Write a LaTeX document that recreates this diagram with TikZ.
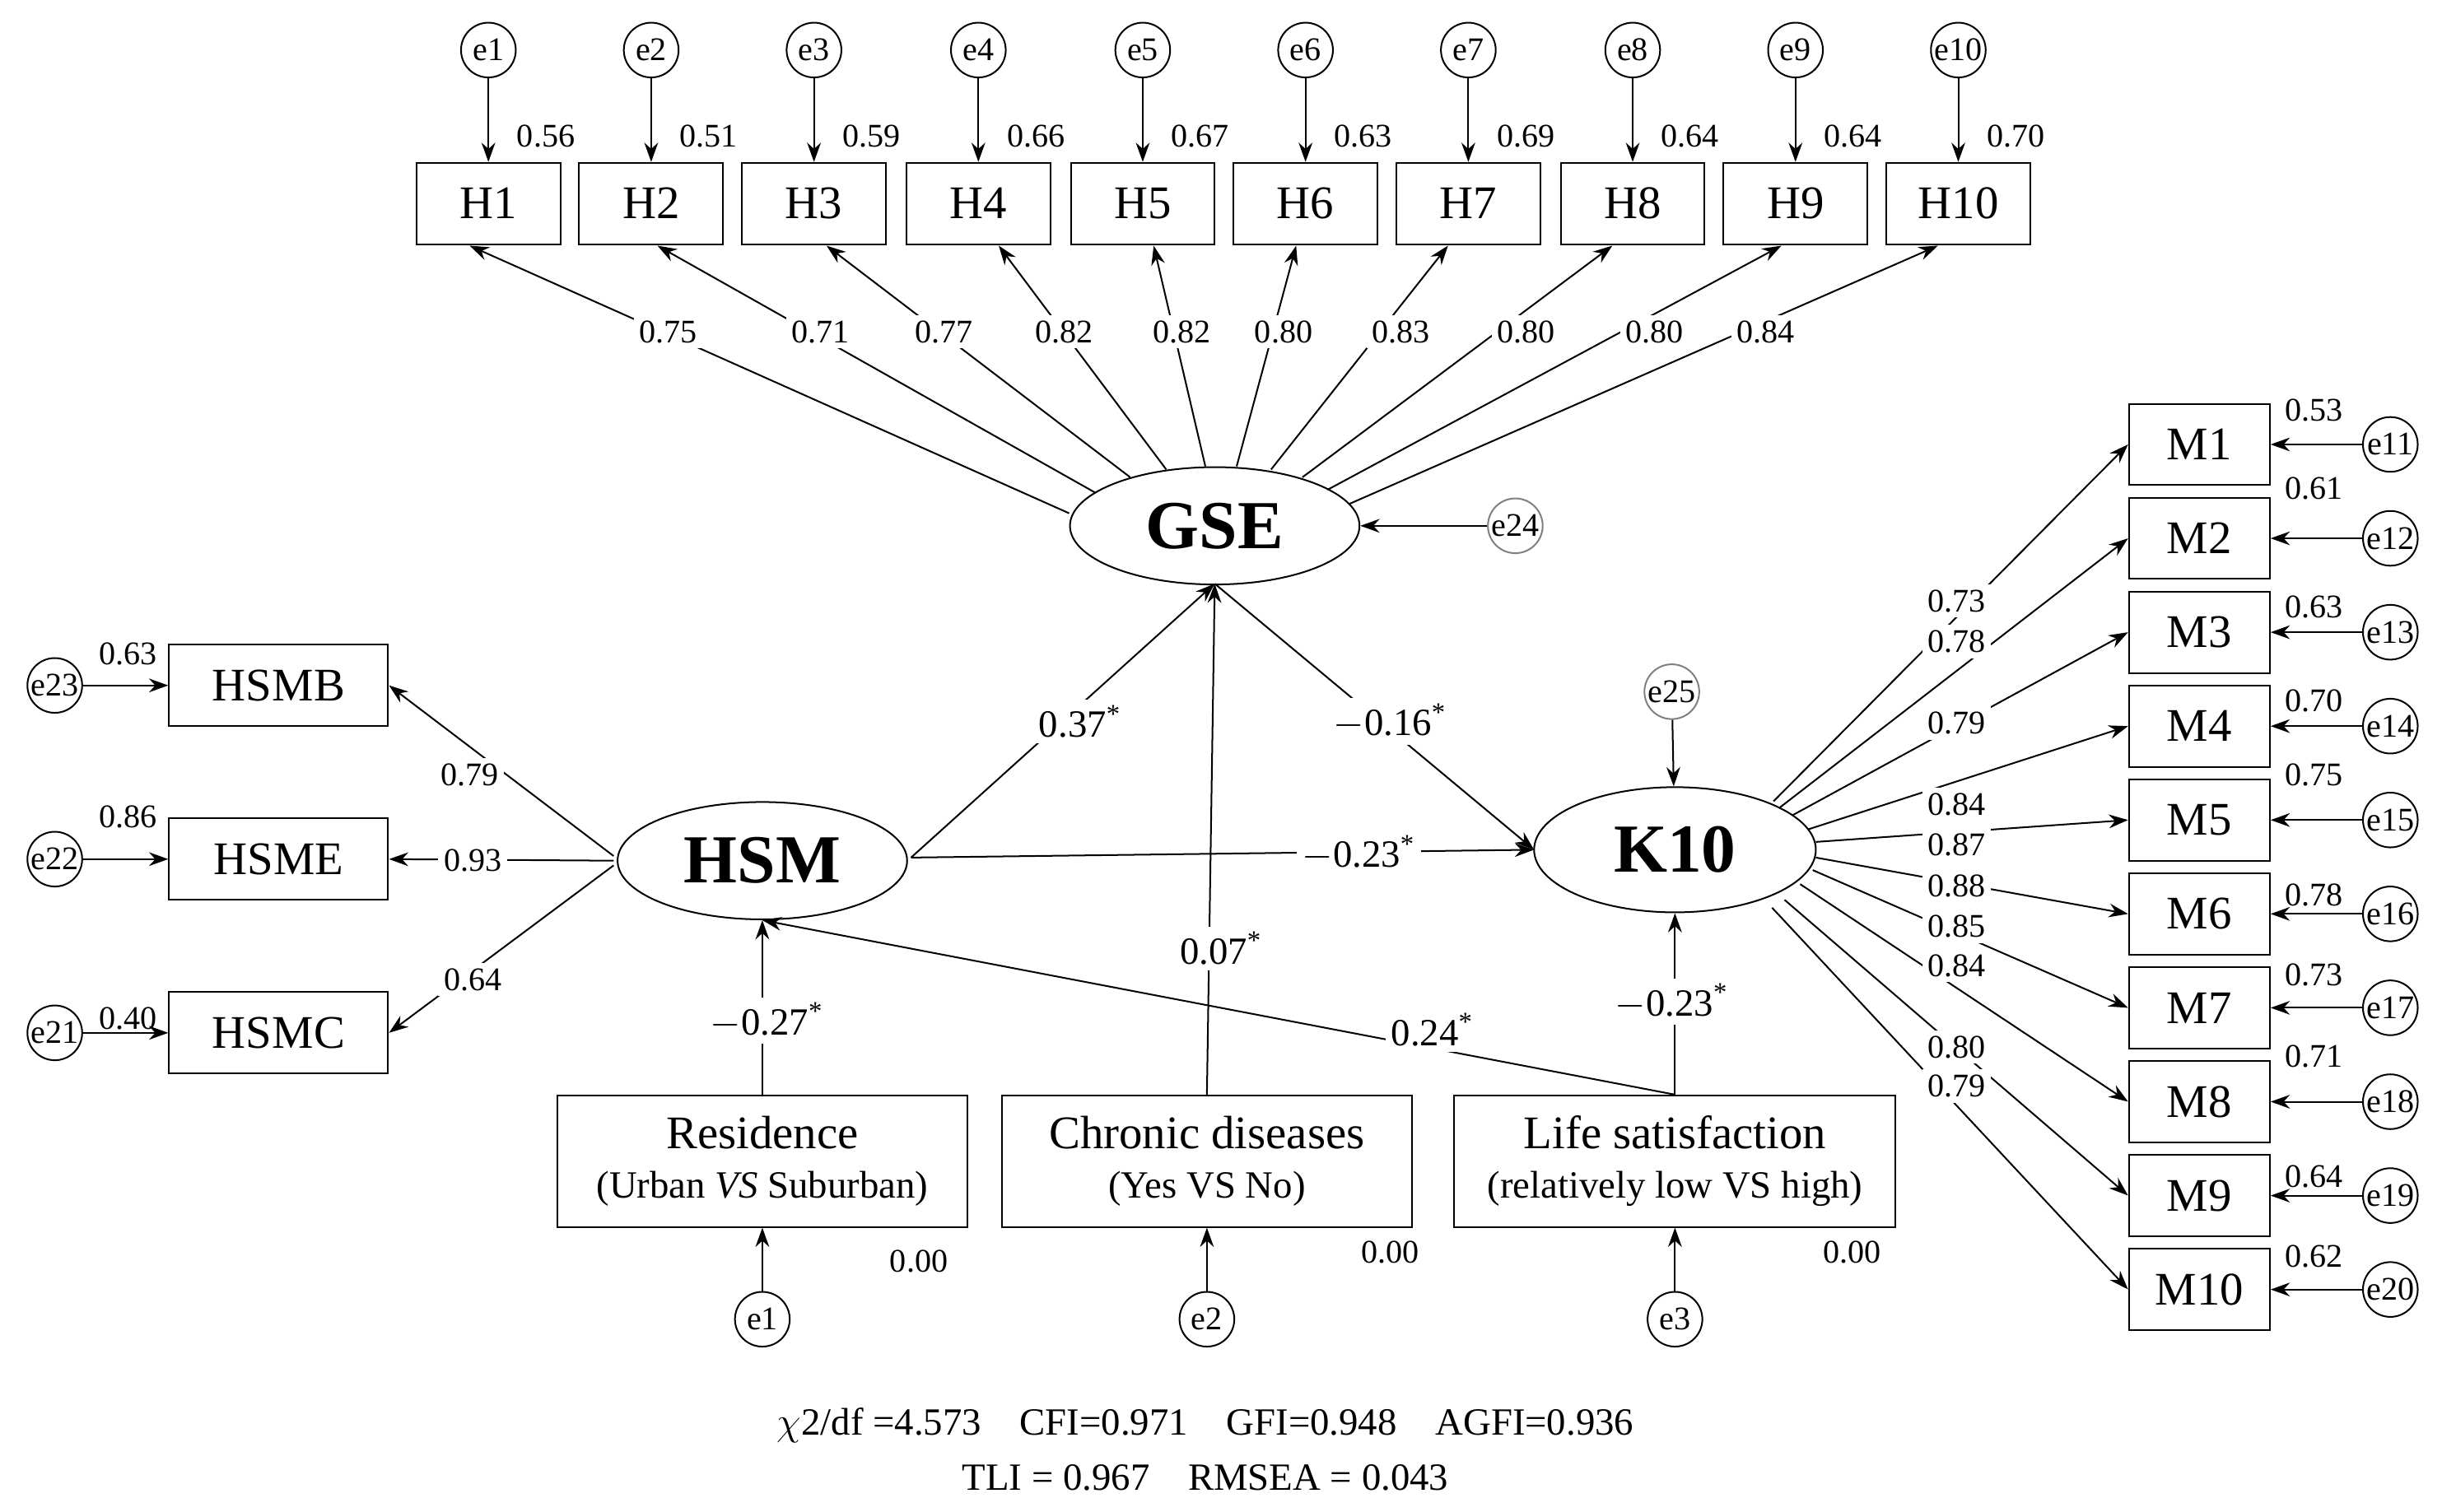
\documentclass[tikz,border=0pt]{standalone}
\usepackage{fontspec}
\setmainfont{Liberation Serif}
\usetikzlibrary{arrows.meta,calc,shapes.geometric}
\begin{document}
\begin{tikzpicture}[x=0.02cm,y=-0.02cm,
 >={Stealth[length=7pt,width=5pt]},
 every path/.style={line width=0.6pt},
 box/.style={draw,minimum width=1.8cm,minimum height=1.04cm,font=\fontsize{17}{19}\selectfont,inner sep=0pt},
 ebox/.style={draw,minimum height=1.68cm,font=\fontsize{17}{19}\selectfont,align=center,inner sep=2pt},
 err/.style={draw,circle,minimum size=0.7cm,inner sep=0pt,font=\fontsize{12}{14}\selectfont},
 gerr/.style={err,draw=gray},
 lat/.style={draw,ellipse,minimum width=3.7cm,minimum height=1.5cm,font=\fontsize{25}{28}\selectfont\bfseries},
 num/.style={font=\fontsize{12}{14}\selectfont,inner sep=1pt},
 wnum/.style={num,fill=white,inner sep=2pt},
 pl/.style={font=\fontsize{14}{16}\selectfont,fill=white,inner sep=2pt}]
\useasboundingbox (0,0) rectangle (1560,966);
% top indicators
\foreach \i/\x/\v in {1/312/0.56,2/416/0.51,3/520/0.59,4/625/0.66,5/730/0.67,6/834/0.63,7/938/0.69,8/1043/0.64,9/1147/0.64,10/1251/0.70}{
 \node[box,minimum width=1.84cm] (H\i) at (\x,130) {H\i};
 \node[err] (te\i) at (\x,32) {e\i};
 \draw[->] (te\i) -- (H\i);
 \node[num,anchor=west] at (\x+16,87) {\v};
}
\node[lat] (GSE) at (776,336) {GSE};
\node[gerr] (e24) at (968,336) {e24};
\draw[->] (e24) -- (GSE.east);
\foreach \i/\sx/\sy/\ex/\lx/\v in {1/683/328/300/427/0.75,2/700/315/420/524/0.71,3/722/305/528/603/0.77,4/745/300/638/680/0.82,5/770/298/737/755/0.82,6/790/298/828/820/0.80,7/812/300/925/895/0.83,8/832/305/1030/975/0.80,9/848/313/1138/1057/0.80,10/862/322/1238/1128/0.84}{
 \coordinate (gs\i) at (\sx,\sy);
 \coordinate (ge\i) at (\ex,157);
 \draw[->] (gs\i) -- (ge\i);
 \node[wnum] at (\lx,212) {\v};
}
% HSM
\node[lat] (HSM) at (487,550) {HSM};
\foreach \n/\y/\e/\v/\vy in {HSMB/438/23/0.63/418,HSME/549/22/0.86/522,HSMC/660/21/0.40/651}{
 \node[box,minimum width=2.8cm] (\n) at (178,\y) {\n};
 \node[err] (ee\e) at (35,\y) {e\e};
 \draw[->] (ee\e) -- (\n);
 \node[num] at (82,\vy) {\v};
}
\coordinate (h1) at (392,547); \coordinate (h2) at (392,550); \coordinate (h3) at (392,553);
\draw[->] (h1) -- (HSMB.east); \node[wnum] at (300,495) {0.79};
\draw[->] (h2) -- (HSME.east); \node[wnum] at (302,550) {0.93};
\draw[->] (h3) -- (HSMC.east); \node[wnum] at (302,626) {0.64};
% K10
\node[lat,minimum width=3.6cm,minimum height=1.6cm] (K10) at (1070,543) {K10};
\node[gerr] (e25) at (1068,442) {e25};
\draw[->] (e25) -- (K10);
\foreach \i/\y/\v/\vy/\sx/\sy/\l/\ly in {1/284/0.53/262/1133/512/0.73/384,2/344/0.61/312/1137/516/0.78/410,3/404/0.63/388/1145/521/0.79/462,4/464/0.70/448/1155/530/0.84/514,5/524/0.75/495/1160/538/0.87/540,6/584/0.78/572/1160/548/0.88/566,7/644/0.73/623/1158/556/0.85/592,8/704/0.71/675/1150/565/0.84/617,9/764/0.64/752/1140/575/0.80/669,10/824/0.62/803/1132/580/0.79/694}{
 \node[box] (M\i) at (1405,\y) {M\i};
 \node[err] (me\i) at (1527,\y) {e\the\numexpr\i+10\relax};
 \draw[->] (me\i) -- (M\i);
 \node[num] at (1478,\vy) {\v};
 \coordinate (ks\i) at (\sx,\sy);
 \draw[->] (ks\i) -- (M\i.west);
 \node[wnum] at (1250,\ly) {\l};
}
% exogenous
\node[ebox,minimum width=5.24cm] (Res) at (487,742) {Residence\\[-1pt]{\fontsize{14}{16}\selectfont (Urban \textit{VS} Suburban)}};
\node[ebox,minimum width=5.24cm] (Chr) at (771,742) {Chronic diseases\\[-1pt]{\fontsize{14}{16}\selectfont (Yes VS No)}};
\node[ebox,minimum width=5.64cm] (Life) at (1070,742) {Life satisfaction\\[-1pt]{\fontsize{14}{16}\selectfont (relatively low VS high)}};
\foreach \n/\x/\i/\lx/\ly in {Res/487/1/587/806,Chr/771/2/888/800,Life/1070/3/1183/800}{
 \node[err] (b\i) at (\x,843) {e\i};
 \draw[->] (b\i) -- (\n);
 \node[num] at (\lx,\ly) {0.00};
}
% structural paths
\coordinate (hsmE) at (582,548);
\coordinate (gseS) at (776,373);
\coordinate (k10W) at (980,543);
\draw[->] (hsmE) -- (gseS); \node[pl] at (690,461) {0.37\textsuperscript{*}};
\draw[->] (Chr.north) -- (gseS); \node[pl] at (780,606) {0.07\textsuperscript{*}};
\draw[->] (gseS) -- (k10W); \node[pl] at (888,461) {$-$0.16\textsuperscript{*}};
\draw[->] (hsmE) -- (k10W); \node[pl] at (868,545) {$-$0.23\textsuperscript{*}};
\draw[->] (Res.north) -- (HSM.south); \node[pl] at (490,652) {$-$0.27\textsuperscript{*}};
\draw[->] (Life.north) -- (K10.south); \node[pl] at (1068,640) {$-$0.23\textsuperscript{*}};
\draw[->] (Life.north) -- (HSM.south); \node[pl] at (915,658) {0.24\textsuperscript{*}};
% fit indices
\node[font=\fontsize{14}{16}\selectfont] (fit1) at (770,911) {$\chi$2/df =4.573\quad CFI=0.971\quad GFI=0.948\quad AGFI=0.936};
\node[font=\fontsize{14}{16}\selectfont] (fit2) at (770,944) {TLI = 0.967\quad RMSEA = 0.043};
\end{tikzpicture}
\end{document}
